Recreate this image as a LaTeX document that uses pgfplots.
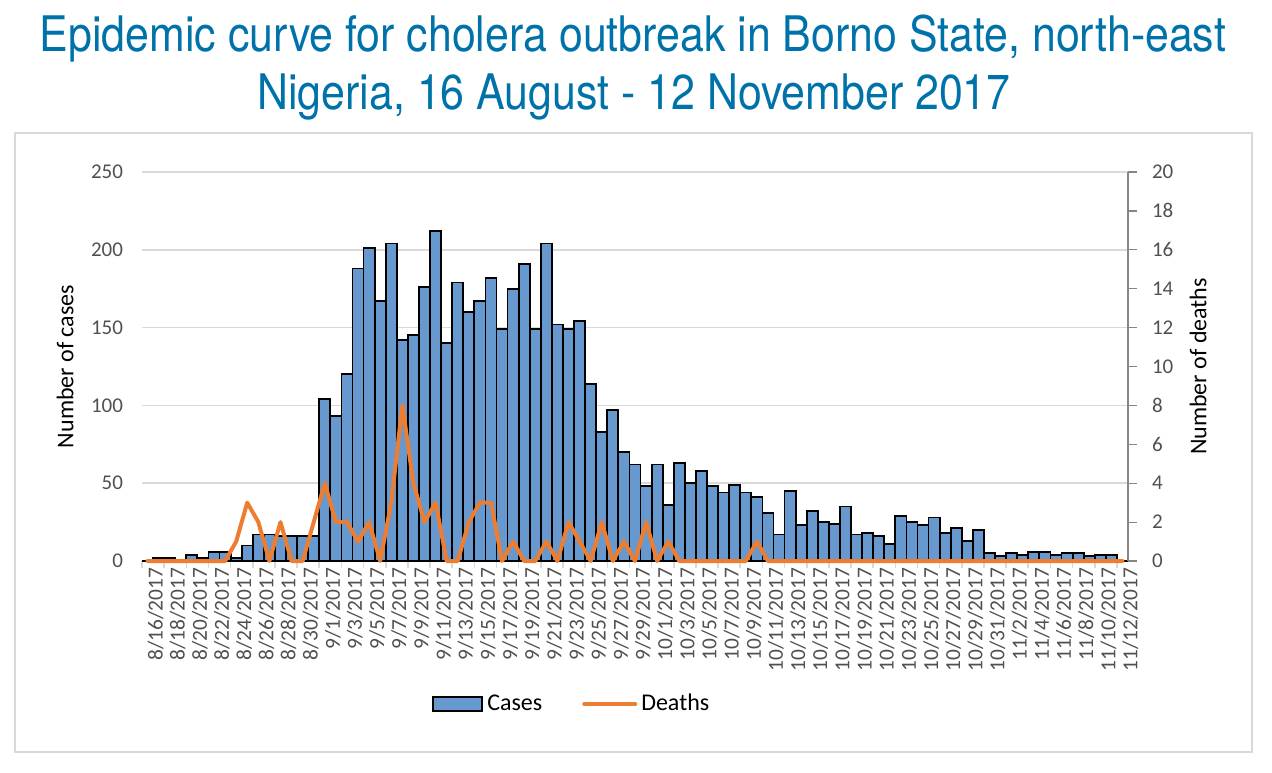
\documentclass[border=0pt]{standalone}
\usepackage{fontspec}
\setmainfont{Carlito}
\newfontfamily\titlefont[FakeStretch=0.875]{TeX Gyre Heros}
\usepackage{pgfplots}
\pgfplotsset{compat=1.18}
\usepackage{pgfplotstable}

\definecolor{barblue}{RGB}{103,153,206}
\definecolor{lineorange}{RGB}{237,125,49}
\definecolor{titleblue}{RGB}{0,114,170}
\definecolor{ticktext}{RGB}{80,80,80}
\definecolor{gridgray}{RGB}{217,217,217}
\definecolor{axisgray}{RGB}{134,134,134}
\definecolor{framegray}{RGB}{217,217,217}

\pgfplotstableread{
i cases deaths
0 0 0
1 2 0
2 2 0
3 1 0
4 4 0
5 2 0
6 6 0
7 6 0
8 2 1
9 10 3
10 17 2
11 17 0
12 16 2
13 16 0
14 16 0
15 16 2
16 104 4
17 93 2
18 120 2
19 188 1
20 201 2
21 167 0
22 204 3
23 142 8
24 145 4
25 176 2
26 212 3
27 140 0
28 179 0
29 160 2
30 167 3
31 182 3
32 149 0
33 175 1
34 191 0
35 149 0
36 204 1
37 152 0
38 149 2
39 154 1
40 114 0
41 83 2
42 97 0
43 70 1
44 62 0
45 48 2
46 62 0
47 36 1
48 63 0
49 50 0
50 58 0
51 48 0
52 44 0
53 49 0
54 44 0
55 41 1
56 31 0
57 17 0
58 45 0
59 23 0
60 32 0
61 25 0
62 24 0
63 35 0
64 17 0
65 18 0
66 16 0
67 11 0
68 29 0
69 25 0
70 23 0
71 28 0
72 18 0
73 21 0
74 13 0
75 20 0
76 5 0
77 3 0
78 5 0
79 4 0
80 6 0
81 6 0
82 4 0
83 5 0
84 5 0
85 3 0
86 4 0
87 4 0
88 0 0
}\epidata

\begin{document}
\begin{tikzpicture}[x=1pt,y=1pt]
% outer frame
\draw[framegray, line width=0.8pt] (7.5,10) rectangle (626,319.5);
% title
\node[anchor=base, text=titleblue, font=\titlefont\fontsize{24.5}{29}\selectfont, inner sep=0pt] at (316.5,360) {Epidemic curve for cholera outbreak in Borno State, north-east};
\node[anchor=base, text=titleblue, font=\titlefont\fontsize{24.5}{29}\selectfont, inner sep=0pt] at (317,331) {Nigeria, 16 August - 12 November 2017};

\begin{axis}[
  at={(71pt,105.5pt)}, anchor=south west,
  scale only axis, width=493pt, height=194.5pt,
  xmin=-0.5, xmax=88.5, ymin=0, ymax=250,
  axis lines*=left,
  x axis line style={draw=gridgray, line width=0.8pt},
  y axis line style={draw=none},
  ytick={0,50,...,250},
  ytick style={draw=none},
  ymajorgrids, grid style={draw=gridgray, line width=0.8pt},
  xtick={0,2,...,88},
  xtick style={draw=none},
  xticklabels={8/16/2017,8/18/2017,8/20/2017,8/22/2017,8/24/2017,8/26/2017,8/28/2017,8/30/2017,9/1/2017,9/3/2017,9/5/2017,9/7/2017,9/9/2017,9/11/2017,9/13/2017,9/15/2017,9/17/2017,9/19/2017,9/21/2017,9/23/2017,9/25/2017,9/27/2017,9/29/2017,10/1/2017,10/3/2017,10/5/2017,10/7/2017,10/9/2017,10/11/2017,10/13/2017,10/15/2017,10/17/2017,10/19/2017,10/21/2017,10/23/2017,10/25/2017,10/27/2017,10/29/2017,10/31/2017,11/2/2017,11/4/2017,11/6/2017,11/8/2017,11/10/2017,11/12/2017},
  xticklabel style={rotate=90, anchor=east, font=\fontsize{10.7}{12}\selectfont, text=ticktext, yshift=-4pt},
  extra x ticks={-0.5,1.5,...,88.5},
  extra x tick labels={},
  extra x tick style={xtick style={draw=gridgray, line width=0.8pt}, major tick length=3.5pt, tick align=outside, xmajorgrids=false},
  yticklabel style={font=\fontsize{10.5}{12}\selectfont, text=ticktext, xshift=-6pt},
  /pgf/number format/assume math mode=true,
  every axis y label/.style={at={(axis description cs:-0.078,0.5)}, rotate=90, anchor=center, font=\fontsize{12}{14}\selectfont},
  ylabel={Number of cases},
]
\addplot[ybar, bar width=1, fill=barblue, draw=black, line width=0.9pt] table[x=i, y=cases] {\epidata};
\end{axis}

\begin{axis}[
  at={(71pt,105.5pt)}, anchor=south west,
  scale only axis, width=493pt, height=194.5pt,
  xmin=-0.5, xmax=88.5, ymin=0, ymax=20,
  axis x line=none,
  axis y line*=right,
  y axis line style={draw=axisgray, line width=0.6pt},
  ytick={0,2,...,20},
  ytick style={draw=axisgray, line width=0.6pt},
  tick align=outside, major tick length=4.5pt,
  yticklabel style={font=\fontsize{10.5}{12}\selectfont, text=ticktext, xshift=4pt},
  /pgf/number format/assume math mode=true,
  every axis y label/.style={at={(axis description cs:1.071,0.5)}, rotate=90, anchor=center, font=\fontsize{12}{14}\selectfont},
  ylabel={Number of deaths},
  clip=false,
  legend columns=2,
  legend style={draw=none, fill=none, at={(axis description cs:0.437,-0.368)}, anchor=center, font=\fontsize{12}{14}\selectfont, /tikz/every even column/.append style={column sep=18pt}},
]
\addlegendimage{legend image code/.code={\draw[fill=barblue, draw=black, line width=0.9pt] (0pt,-3.5pt) rectangle (24.5pt,3.5pt);}}
\addlegendentry{Cases}
\addplot[lineorange, line width=2pt, line join=round, line cap=round, mark=none, legend image code/.code={\draw[lineorange, line width=2pt, line cap=round] (0pt,0pt) -- (25.5pt,0pt);}] table[x=i, y=deaths] {\epidata};
\addlegendentry{Deaths}
\end{axis}
\pgfresetboundingbox
\path (0,0) rectangle (636,386);
\end{tikzpicture}
\end{document}
